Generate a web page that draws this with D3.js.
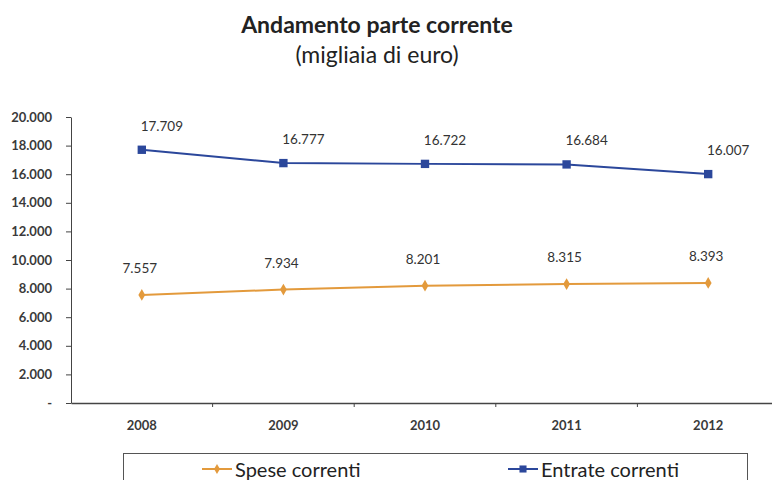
<!DOCTYPE html>
<html>
<head>
  <script src="https://d3js.org/d3.v7.min.js"></script>
  <style>
    body { margin: 0; background: #fff; }
    text { font-family: Lato, "Open Sans", sans-serif; fill: #333; }
    .axis text { font-weight: bold; font-size: 13px; fill: #3a3a3a; }
    .axis line, .axis .domain { stroke: #444; }
  </style>
</head>
<body>
  <svg id="p" width="772" height="480"></svg>
  <script>
    const years = ["2008", "2009", "2010", "2011", "2012"];
    const spese = [7557, 7934, 8201, 8315, 8393];
    const entrate = [17709, 16777, 16722, 16684, 16007];
    const yTicks = [0, 2000, 4000, 6000, 8000, 10000, 12000, 14000, 16000, 18000, 20000];

    const svg = d3.select("svg#p");
    const plotLeft = 71, plotRight = 779, plotTop = 117, plotBottom = 403;

    const x = d3.scaleBand().domain(years).range([plotLeft, plotRight]);
    const y = d3.scaleLinear().domain([0, 20000]).range([plotBottom, plotTop]);
    const fmt = d => d === 0 ? "-" : d3.format(",")(d).replace(/,/g, ".");

    // title
    svg.append("text").attr("x", 377).attr("y", 33).attr("text-anchor", "middle")
       .style("font-size", "23px").style("font-weight", "bold").style("fill", "#222")
       .text("Andamento parte corrente");
    svg.append("text").attr("x", 377).attr("y", 63).attr("text-anchor", "middle")
       .style("font-size", "23px").style("fill", "#222")
       .text("(migliaia di euro)");

    // axes
    svg.append("g").attr("class", "axis")
       .attr("transform", "translate(" + plotLeft + ",0)")
       .call(d3.axisLeft(y).tickValues(yTicks).tickFormat(fmt).tickSize(5).tickSizeOuter(0).tickPadding(14));

    const xAxis = svg.append("g").attr("class", "axis")
       .attr("transform", "translate(0," + plotBottom + ")")
       .call(d3.axisBottom(x).tickSize(0).tickSizeOuter(0).tickPadding(18));
    xAxis.select(".domain").attr("stroke-width", 1.5);
    // ticks between categories
    xAxis.selectAll(".sep").data(years.slice(1)).join("line")
       .attr("class", "sep")
       .attr("x1", d => x(d)).attr("x2", d => x(d))
       .attr("y1", 0).attr("y2", 4).attr("stroke", "#444");

    const cx = d => x(d) + x.bandwidth() / 2;
    const series = [
      {name: "Spese correnti", values: spese, color: "#e39a3c", shape: "diamond", dx: -2, dy: -27},
      {name: "Entrate correnti", values: entrate, color: "#2b479b", shape: "square", dx: 20, dy: -24}
    ];

    const line = d3.line().x((d, i) => cx(years[i])).y(d => y(d));
    series.forEach(s => {
      svg.append("path").datum(s.values).attr("d", line)
         .attr("fill", "none").attr("stroke", s.color).attr("stroke-width", 2);
      const sym = s.shape === "square" ? d3.symbolSquare : d3.symbolDiamond;
      svg.append("g").selectAll("path").data(s.values).join("path")
         .attr("d", d3.symbol().type(sym).size(s.shape === "square" ? 70 : 40))
         .attr("transform", (d, i) => "translate(" + cx(years[i]) + "," + y(d) + ")")
         .attr("fill", s.color);
      svg.append("g").selectAll("text").data(s.values).join("text")
         .attr("x", (d, i) => cx(years[i]) + s.dx)
         .attr("y", d => y(d) + s.dy + 5)
         .attr("text-anchor", "middle")
         .style("font-size", "13.5px")
         .text(fmt);
    });

    // legend
    svg.append("rect").attr("x", 123.5).attr("y", 453.5).attr("width", 624).attr("height", 40)
       .attr("fill", "none").attr("stroke", "#555");
    const legendX = [202, 508];
    series.forEach((s, i) => {
      const g = svg.append("g").attr("transform", "translate(" + legendX[i] + ",469)");
      g.append("line").attr("x1", 0).attr("x2", 30).attr("stroke", s.color).attr("stroke-width", 2);
      const sym = s.shape === "square" ? d3.symbolSquare : d3.symbolDiamond;
      g.append("path").attr("d", d3.symbol().type(sym).size(s.shape === "square" ? 50 : 30))
       .attr("transform", "translate(15,0)").attr("fill", s.color);
      g.append("text").attr("x", 33).attr("y", 8).style("font-size", "20px").style("fill", "#222")
       .text(s.name);
    });
  </script>
</body>
</html>
